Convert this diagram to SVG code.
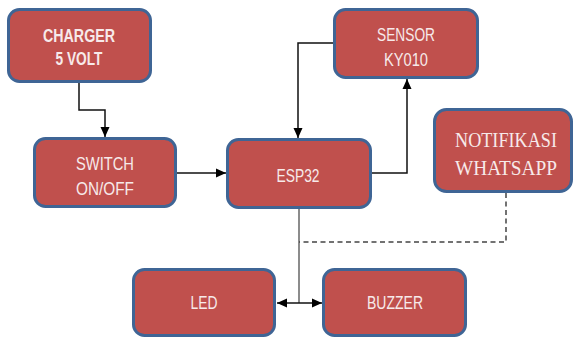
<svg xmlns="http://www.w3.org/2000/svg" width="574" height="340" viewBox="0 0 574 340">
<style>
.box{fill:#c0504d;stroke:#3f6595;stroke-width:3}
.t{font-family:"Liberation Sans",Arial,sans-serif;font-size:18px;fill:#f7eaea;text-anchor:middle}
.b{font-weight:bold}
.s{font-family:"Liberation Serif","Times New Roman",serif;font-size:21px;fill:#f7eaea;text-anchor:middle}
.ln{fill:none;stroke:#111;stroke-width:1.5}
.gl{fill:none;stroke:#666;stroke-width:1.5}
.dl{fill:none;stroke:#444;stroke-width:1.5;stroke-dasharray:5 3.5}
</style>
<defs>
<marker id="ah" markerUnits="userSpaceOnUse" markerWidth="10" markerHeight="10" viewBox="0 0 10 10" refX="10" refY="5" orient="auto">
<path d="M0,0.5 L10,5 L0,9.5 Z" fill="#000"/>
</marker>
<marker id="ahs" markerUnits="userSpaceOnUse" markerWidth="10" markerHeight="10" viewBox="0 0 10 10" refX="10" refY="5" orient="auto-start-reverse">
<path d="M0,0.5 L10,5 L0,9.5 Z" fill="#000"/>
</marker>
</defs>
<g id="connectors">
<polyline class="ln" points="79,83 79,110 105,110 105,137" marker-end="url(#ah)"/>
<line class="ln" x1="177" y1="173" x2="226" y2="173" marker-end="url(#ah)"/>
<polyline class="ln" points="334,43 298,43 298,138" marker-end="url(#ah)"/>
<polyline class="ln" points="371,173 407,173 407,79" marker-end="url(#ah)"/>
<line class="gl" x1="299" y1="208" x2="299" y2="303"/>
<line class="ln" x1="277" y1="303" x2="322" y2="303" marker-start="url(#ahs)" marker-end="url(#ah)"/>
<polyline class="dl" points="506,193 506,242 299,242"/>
</g>
<g id="charger">
<rect class="box" x="8.5" y="9.5" width="142" height="72" rx="11"/>
<text class="t b" x="79" y="42" textLength="72" lengthAdjust="spacingAndGlyphs">CHARGER</text>
<text class="t b" x="79" y="65" textLength="47" lengthAdjust="spacingAndGlyphs">5 VOLT</text>
</g>
<g id="switch">
<rect class="box" x="34.5" y="138.5" width="141" height="68" rx="11"/>
<text class="t" x="105" y="170" textLength="58" lengthAdjust="spacingAndGlyphs">SWITCH</text>
<text class="t" x="105" y="195" textLength="58" lengthAdjust="spacingAndGlyphs">ON/OFF</text>
</g>
<g id="esp32">
<rect class="box" x="227.5" y="139.5" width="143" height="68" rx="11"/>
<text class="t" x="298" y="182" textLength="43" lengthAdjust="spacingAndGlyphs">ESP32</text>
</g>
<g id="sensor">
<rect class="box" x="334.5" y="9.5" width="143" height="68" rx="11"/>
<text class="t" x="406" y="41" textLength="58" lengthAdjust="spacingAndGlyphs">SENSOR</text>
<text class="t" x="406" y="66" textLength="44" lengthAdjust="spacingAndGlyphs">KY010</text>
</g>
<g id="notifikasi">
<rect class="box" x="434.5" y="109.5" width="137" height="82" rx="12"/>
<text class="s" x="506" y="147" textLength="102" lengthAdjust="spacingAndGlyphs">NOTIFIKASI</text>
<text class="s" x="506" y="175" textLength="102" lengthAdjust="spacingAndGlyphs">WHATSAPP</text>
</g>
<g id="led">
<rect class="box" x="133.5" y="269.5" width="141" height="66" rx="11"/>
<text class="t" x="204" y="309" textLength="27" lengthAdjust="spacingAndGlyphs">LED</text>
</g>
<g id="buzzer">
<rect class="box" x="323.5" y="269.5" width="142" height="66" rx="11"/>
<text class="t" x="395" y="309" textLength="56" lengthAdjust="spacingAndGlyphs">BUZZER</text>
</g>
</svg>
